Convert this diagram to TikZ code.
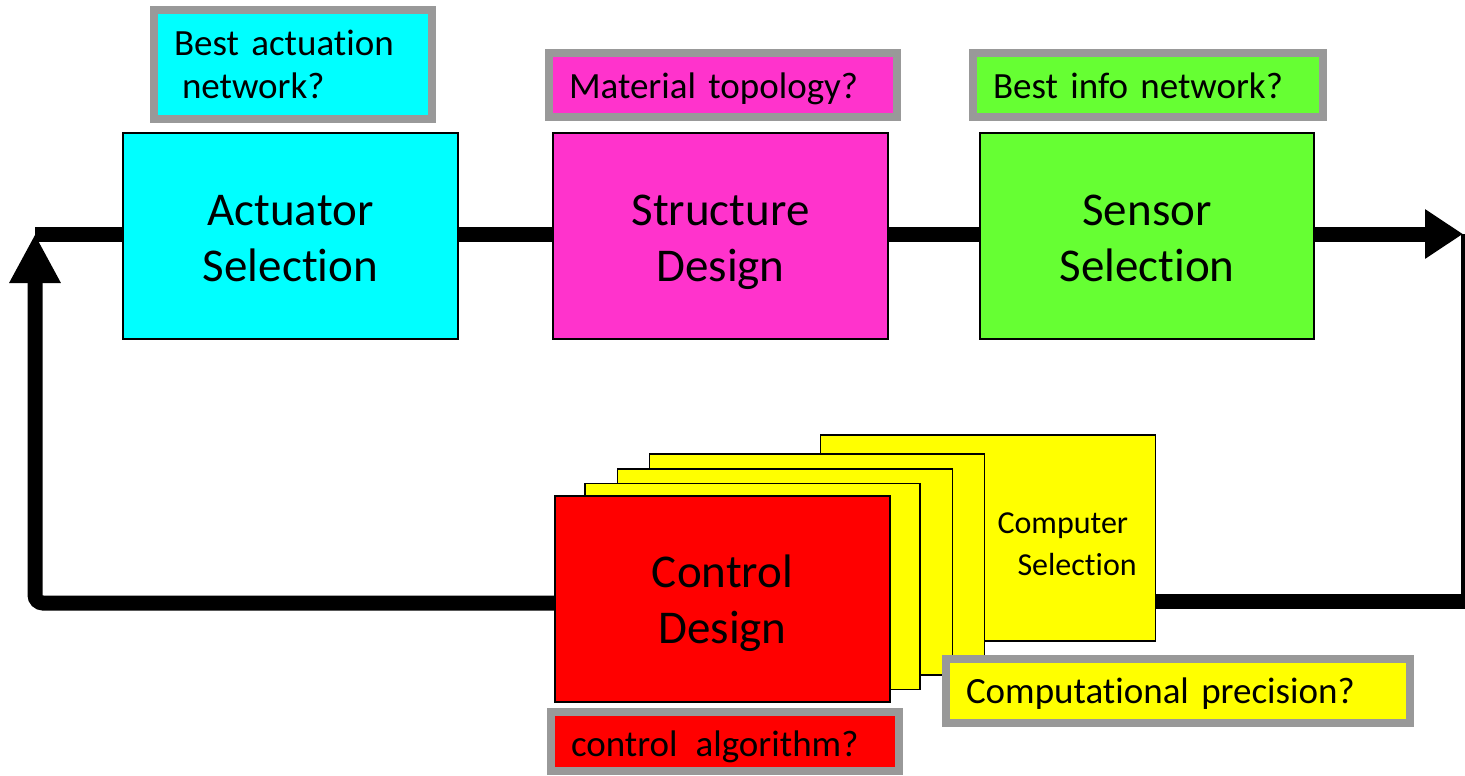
\documentclass[tikz,border=0pt]{standalone}
\usepackage{fontspec}
\setmainfont{Carlito}[RawFeature={-liga;-clig}]
\usetikzlibrary{arrows.meta}
\pgfdeclarelayer{background}
\pgfsetlayers{background,main}

\definecolor{actcyan}{HTML}{00FFFF}
\definecolor{strmag}{HTML}{FF33CC}
\definecolor{sengreen}{HTML}{66FF33}
\definecolor{ctrlred}{HTML}{FF0000}
\definecolor{cpuyellow}{HTML}{FFFF00}
\definecolor{qgray}{HTML}{999999}

% a text line of strut size, with its ink lowered by #1
\newcommand\dropline[2]{\strut\raisebox{-#1}[0pt][0pt]{#2}}

\begin{document}
\begin{tikzpicture}[x=1pt,y=-1pt,
  stage/.style={draw=black, line width=2pt, minimum width=335pt, minimum height=206pt,
    inner sep=0pt, align=center, font=\fontsize{47}{56}\selectfont},
  layer/.style={draw=black, line width=1.5pt, fill=cpuyellow, minimum width=335pt,
    minimum height=206pt, inner sep=0pt},
  query/.style={draw=qgray, line width=8pt, inner xsep=20pt, inner ysep=0pt,
    align=left, font=\fontsize{37}{43}\selectfont},
  flow/.style={line width=15pt, draw=black}
]
\useasboundingbox (0,0) rectangle (1465,776);

% design stages
\node[stage, fill=actcyan] (act) at (290.5,236)
  {\dropline{6pt}{Actuator}\\\dropline{6pt}{Selection}};
\node[stage, fill=strmag] (str) at (720.5,236)
  {\dropline{6pt}{Structure}\\\dropline{6pt}{Design}};
\node[stage, fill=sengreen, minimum width=334pt] (sen) at (1147,236)
  {\dropline{6pt}{Sensor}\\\dropline{6pt}{Selection}};

% stacked computer cards, back to front
\node[layer] (comp) at (988,538) {};
\node[anchor=west, align=left, font=\fontsize{32}{42}\selectfont] (comptxt) at (994,544)
  {Computer\\\hspace{20pt}Selection};
\node[layer] (lay3) at (817,557) {};
\node[layer] (lay2) at (785,572) {};
\node[layer] (lay1) at (752.5,586.5) {};
\node[stage, fill=ctrlred] (ctrl) at (722.5,599)
  {\dropline{5pt}{Control}\\\dropline{5pt}{Design}};

% question tags
\node[query, fill=actcyan, text width=238pt, minimum height=109pt] (qact) at (293,64.5)
  {\dropline{4pt}{Best actuation}\\\dropline{4pt}{\hspace{8pt}network?}};
\node[query, fill=strmag, text width=308pt, minimum height=64pt] (qstr) at (723,85)
  {\dropline{5pt}{Material topology?}};
\node[query, fill=sengreen, text width=310pt, minimum height=64pt] (qsen) at (1148,85)
  {\dropline{5pt}{Best info network?}};
\node[query, fill=cpuyellow, text width=424pt, minimum height=64pt] (qcpu) at (1178,691)
  {\dropline{4pt}{Computational precision?}};
\node[query, fill=ctrlred, text width=308pt, minimum height=59pt] (qctrl) at (725,741.5)
  {\dropline{6pt}{control\hspace{18pt}algorithm?}};

% loop path
\coordinate (tl) at (35,234);
\coordinate (tr) at (1463,234);
\coordinate (bl) at (35,603);
\coordinate (br) at (1468,601);

\begin{pgfonlayer}{background}
  \draw[flow, -{Triangle[length=38pt,width=47pt]}] (tl) -- (tr);
  \draw[flow, rounded corners=8pt, -{Triangle[length=49pt,width=48pt]}]
    (bl -| ctrl.west) -- (bl) -- (tl);
  \draw[flow] (br -| comp.east) -- (br) -- (br |- tr);
\end{pgfonlayer}
\end{tikzpicture}
\end{document}
